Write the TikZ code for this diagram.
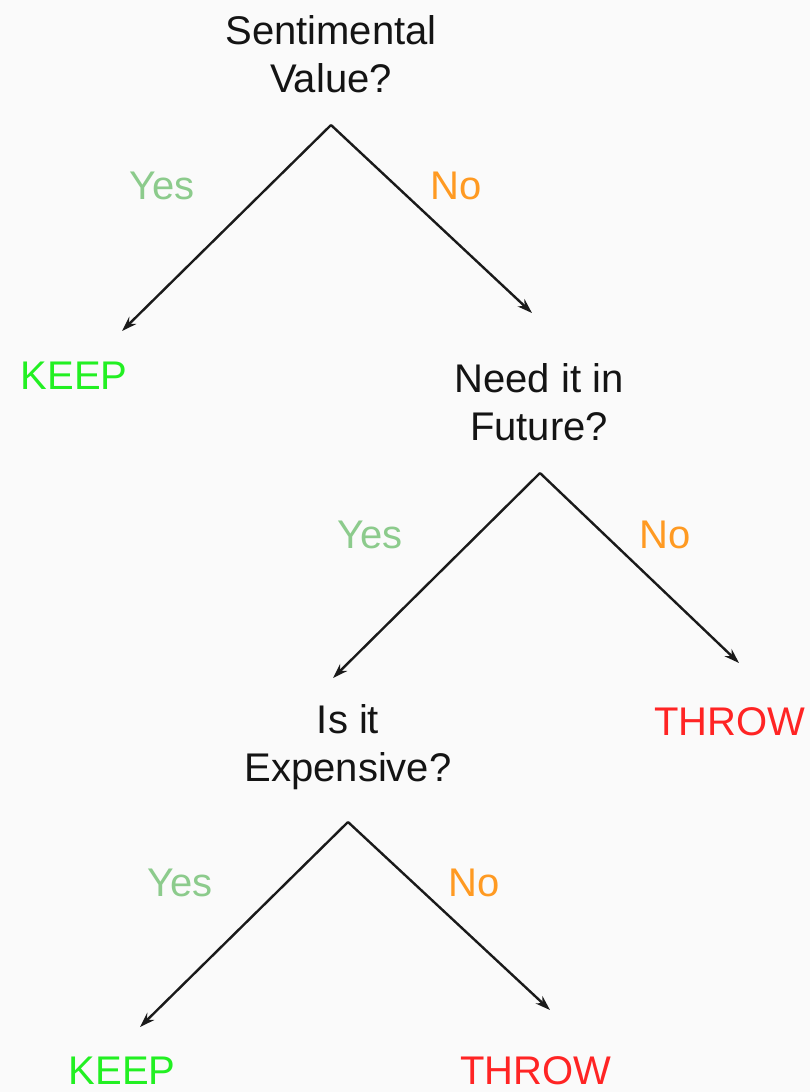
\documentclass[tikz,border=0pt]{standalone}
\usepackage{fontspec}
\setmainfont{Liberation Sans}
\usetikzlibrary{arrows.meta}
\definecolor{bg}{HTML}{FAFAFA}
\definecolor{yescol}{HTML}{8CCB8C}
\definecolor{nocol}{HTML}{FF9A22}
\definecolor{keepcol}{HTML}{22F022}
\definecolor{throwcol}{HTML}{FF2424}
\definecolor{linecol}{HTML}{1A1A1A}
\begin{document}
\begin{tikzpicture}[x=1pt,y=-1pt,
  txt/.style={font=\fontsize{40}{48}\selectfont, inner sep=0pt, outer sep=0pt},
  question/.style={txt, align=center, text=black!92},
  yeslbl/.style={txt, text=yescol},
  nolbl/.style={txt, text=nocol},
  keep/.style={txt, text=keepcol},
  throw/.style={txt, text=throwcol},
  branch/.style={draw=linecol, line width=2.4pt, -{Stealth[length=15pt,width=10pt]}}]
  % canvas
  \fill[bg] (0,0) rectangle (810,1092);
  \useasboundingbox (0,0) rectangle (810,1092);

  % first question
  \node[question] (q1) at (331,54) {Sentimental\\Value?};
  \coordinate (a1) at (331,125);
  \coordinate (t1l) at (122,331);
  \coordinate (t1r) at (532,313);
  \draw[branch] (a1) -- (t1l);
  \draw[branch] (a1) -- (t1r);
  \node[yeslbl] (y1) at (162,186) {Yes};
  \node[nolbl] (n1) at (456,186) {No};
  \node[keep] (k1) at (74,376) {KEEP};

  % second question
  \node[question] (q2) at (539,402) {Need it in\\Future?};
  \coordinate (a2) at (540,473);
  \coordinate (t2l) at (333,678);
  \coordinate (t2r) at (739,663);
  \draw[branch] (a2) -- (t2l);
  \draw[branch] (a2) -- (t2r);
  \node[yeslbl] (y2) at (370,535) {Yes};
  \node[nolbl] (n2) at (665,535) {No};
  \node[throw] (w1) at (730,722) {THROW};

  % third question
  \node[question] (q3) at (348,747) {Is it\\Expensive?};
  \coordinate (a3) at (348,822);
  \coordinate (t3l) at (140,1027);
  \coordinate (t3r) at (550,1010);
  \draw[branch] (a3) -- (t3l);
  \draw[branch] (a3) -- (t3r);
  \node[yeslbl] (y3) at (180,883) {Yes};
  \node[nolbl] (n3) at (474,883) {No};
  \node[keep] (k2) at (122,1071) {KEEP};
  \node[throw] (w2) at (536,1071) {THROW};
\end{tikzpicture}
\end{document}
